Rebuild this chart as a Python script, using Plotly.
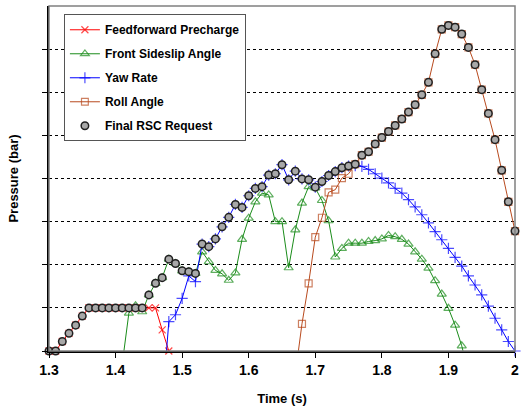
import numpy as np
import plotly.graph_objects as go

# ---------------- data ----------------
ff_start = 1.30
ff_vals = [0, 0, 0.22, 0.41, 0.60, 0.81,
           1.0, 1.0, 1.0, 1.0, 1.0, 1.0, 1.0, 1.0, 1.0, 1.0, 1.0,
           0.49, 0]

fs_start = 1.41
fs_vals = [-0.30, 0.88, 1.05, 0.91, 1.30, 1.57, 1.70, 2.13, 2.03, 1.86,
           1.84, 1.80, 2.30, 2.07, 1.87, 1.79, 1.64, 1.81, 2.59, 3.08,
           3.46, 3.66, 3.62, 3.00, 3.00, 1.93, 2.81, 3.43, 3.81, 3.78,
           3.49, 3.02, 2.18, 2.38, 2.50, 2.50, 2.50, 2.54, 2.56, 2.60,
           2.68, 2.65, 2.59, 2.48, 2.30, 2.13, 1.92, 1.63, 1.32, 0.99,
           0.60, 0.12, -0.50]

yr_start = 1.47
yr_vals = [-1.26, 0.68, 0.84, 1.22, 1.74, 1.61, 2.48, 2.42, 2.60, 2.88,
           3.10, 3.40, 3.33, 3.60, 3.77, 3.81, 4.08, 4.11, 4.32, 3.97,
           4.17, 3.99, 3.97, 3.80, 3.93, 4.07, 4.16, 4.25, 4.29, 4.30,
           4.28, 4.21, 4.11, 4.01, 3.90, 3.77, 3.66, 3.51, 3.34, 3.16,
           2.97, 2.77, 2.58, 2.38, 2.17, 1.97, 1.74, 1.53, 1.30, 1.04,
           0.76, 0.49, 0.22, 0.0]

ra_start = 1.67
ra_vals = [-0.54, 0.63, 1.57, 2.64, 3.09, 3.68, 3.74, 4.01, 4.11, 4.33,
           4.54, 4.62, 4.80, 4.95, 5.09, 5.23, 5.38, 5.54, 5.71, 5.94,
           6.23, 6.89, 7.46, 7.55, 7.51, 7.35, 7.04, 6.64, 6.06, 5.51,
           4.90, 4.19, 3.46, 2.78]

rsc_start = 1.30
rsc_vals = [0, 0, 0.22, 0.41, 0.60, 0.81,
            1.0, 1.0, 1.0, 1.0, 1.0, 1.0, 1.0, 1.0, 1.0,
            1.30, 1.57, 1.70, 2.13, 2.03, 1.86, 1.84, 1.80, 2.48, 2.42,
            2.60, 2.88, 3.10, 3.40, 3.33, 3.60, 3.77, 3.81, 4.08, 4.11,
            4.32, 3.97, 4.17, 3.99, 3.97, 3.80, 3.93, 4.07, 4.16, 4.25,
            4.29, 4.33, 4.54,
            4.62, 4.80, 4.95, 5.09, 5.23, 5.38, 5.54, 5.71, 5.94,
            6.23, 6.89, 7.46, 7.55, 7.51, 7.35, 7.04, 6.64, 6.06, 5.51,
            4.90, 4.19, 3.46, 2.78]

x_tick_vals = [1.3, 1.4, 1.5, 1.6, 1.7, 1.8, 1.9, 2.0]
x_tick_text = ["1.3", "1.4", "1.5", "1.6", "1.7", "1.8", "1.9", "2"]

names = ["Feedforward Precharge", "Front Sideslip Angle", "Yaw Rate",
         "Roll Angle", "Final RSC Request"]


def times(start, vals):
    return [round(start + 0.01 * i, 2) for i in range(len(vals))]


def sizes(vals, s):
    # hide markers of samples that fall below the visible axis range
    return [s if v >= 0 else 0 for v in vals]


FONT = "Liberation Sans, Arial, sans-serif"

fig = go.Figure()

fig.add_trace(go.Scatter(
    x=times(ff_start, ff_vals), y=ff_vals, name=names[0],
    mode="lines+markers", cliponaxis=False, legendgroup="a",
    line=dict(color="#FF0000", width=1),
    marker=dict(symbol="x-thin-open", size=sizes(ff_vals, 7),
                line=dict(color="#FF0000", width=1.2))))

fig.add_trace(go.Scatter(
    x=times(fs_start, fs_vals), y=fs_vals, name=names[1],
    mode="lines+markers", cliponaxis=False, legendgroup="b",
    line=dict(color="#1A8C1A", width=1),
    marker=dict(symbol="triangle-up-open", size=sizes(fs_vals, 8),
                color="#1A8C1A", line=dict(width=1.2))))

fig.add_trace(go.Scatter(
    x=times(yr_start, yr_vals), y=yr_vals, name=names[2],
    mode="lines+markers", cliponaxis=False, legendgroup="c",
    line=dict(color="#0000FF", width=1),
    marker=dict(symbol="cross-thin-open", size=sizes(yr_vals, 8),
                line=dict(color="#0000FF", width=1.2))))

fig.add_trace(go.Scatter(
    x=times(ra_start, ra_vals), y=ra_vals, name=names[3],
    mode="lines+markers", cliponaxis=False, legendgroup="d",
    line=dict(color="#B84A1E", width=1),
    marker=dict(symbol="square-open", size=sizes(ra_vals, 7),
                color="#B84A1E", line=dict(width=1.2))))

fig.add_trace(go.Scatter(
    x=times(rsc_start, rsc_vals), y=rsc_vals, name=names[4],
    mode="markers", cliponaxis=False, legendgroup="e",
    marker=dict(symbol="circle", size=7.5, color="#A8A8A8",
                line=dict(color="#202020", width=1.5))))

# grey frame on the top/right like the original
fig.add_shape(type="rect", xref="paper", yref="paper", x0=0, y0=0, x1=1, y1=1,
              line=dict(color="#808080", width=1.5), layer="above")

fig.update_layout(
    width=521, height=411,
    margin=dict(l=49, r=2, t=6, b=60),
    paper_bgcolor="white", plot_bgcolor="white",
    font=dict(family=FONT, color="black"),
    showlegend=True,
    legend=dict(x=0.032, y=0.976, xanchor="left", yanchor="top",
                bgcolor="white", bordercolor="#555555", borderwidth=1,
                font=dict(size=12, weight="bold", family=FONT),
                traceorder="grouped", tracegroupgap=5, itemwidth=30),
    xaxis=dict(range=[1.3, 2.0], tickmode="array", tickvals=x_tick_vals,
               ticktext=x_tick_text, ticks="outside", ticklen=5,
               tickcolor="black", showline=True, linecolor="black",
               linewidth=1.5, showgrid=False, zeroline=False,
               ticklabeloverflow="allow",
               tickfont=dict(size=14, weight="bold"),
               title=dict(text="Time (s)", font=dict(size=13, weight="bold"),
                          standoff=17)),
    yaxis=dict(range=[0, 8], tickmode="array", tickvals=list(range(0, 8)),
               showticklabels=False, ticks="outside", ticklen=5,
               tickcolor="black", showline=True, linecolor="black",
               linewidth=1.5, showgrid=True, gridcolor="black",
               griddash="dot", gridwidth=1, zeroline=False,
               title=dict(text="Pressure (bar)",
                          font=dict(size=13, weight="bold"), standoff=21)),
)

fig.write_html("out.html",
               config={"displayModeBar": False},
               post_script="document.body.style.margin='0';"
                           "document.body.style.overflow='hidden';")
